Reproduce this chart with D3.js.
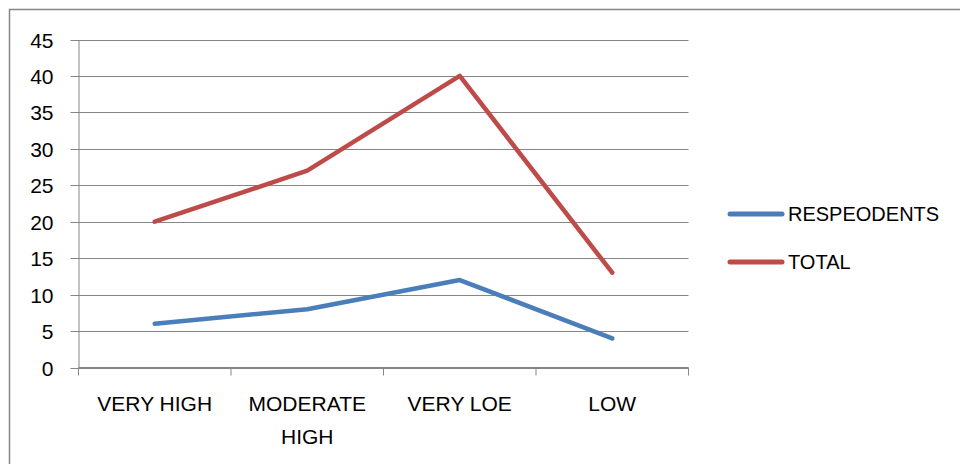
<!DOCTYPE html>
<html><head><meta charset="utf-8">
<script src="https://cdn.jsdelivr.net/npm/d3@7"></script>
<style>body{margin:0;background:#fff}svg{display:block}</style>
</head><body>
<svg id="c" width="960" height="464"></svg>
<script>
const categories = [["VERY HIGH"], ["MODERATE", "HIGH"], ["VERY LOE"], ["LOW"]];
const respondents = [6, 8, 12, 4];
const total = [20, 27, 40, 13];
const seriesNames = ["RESPEODENTS", "TOTAL"];
const yTicks = [0, 5, 10, 15, 20, 25, 30, 35, 40, 45];

(function(){
const svg = d3.select("#c");
const font = "'Liberation Sans', Arial, sans-serif";
const grid = "#868686";

svg.append("rect").attr("x", 9.5).attr("y", 9.5).attr("width", 1000).attr("height", 1000)
  .attr("fill", "none").attr("stroke", grid).attr("stroke-width", 1.5);

const pLeft = 78.5, pRight = 688.5, pTop = 39.5, pBottom = 367.5;
const x = d3.scaleBand().domain(d3.range(categories.length)).range([pLeft, pRight]);
const y = d3.scaleLinear().domain([0, 45]).range([pBottom, pTop]);

svg.append("g").selectAll("line").data(yTicks).join("line")
  .attr("x1", pLeft - 8).attr("x2", pRight)
  .attr("y1", d => Math.round(y(d)) + 0.5).attr("y2", d => Math.round(y(d)) + 0.5)
  .attr("stroke", grid).attr("stroke-width", 1);

const ya = svg.append("g").attr("transform", `translate(${pLeft},0)`)
  .call(d3.axisLeft(y).tickValues(yTicks).tickSize(0).tickPadding(25));
ya.select(".domain").attr("stroke", grid);
ya.selectAll("text").attr("font-family", font).attr("font-size", 21).attr("fill", "#000")
  .attr("dy", "0.36em");

const xa = svg.append("g").attr("transform", `translate(0,${pBottom})`);
xa.append("line").attr("x1", pLeft).attr("x2", pRight).attr("stroke", grid);
const xt = [...d3.range(categories.length).map(i => x(i)), pRight];
xa.selectAll("line.t").data(xt).join("line").attr("class", "t")
  .attr("x1", d => d).attr("x2", d => d).attr("y1", 0).attr("y2", 8).attr("stroke", grid);
xa.selectAll("text").data(categories).join("text")
  .attr("text-anchor", "middle").attr("font-family", font).attr("font-size", 21).attr("fill", "#000")
  .each(function(lines, i) {
    d3.select(this).selectAll("tspan").data(lines).join("tspan")
      .attr("x", x(i) + x.bandwidth() / 2).attr("y", (d, j) => 43.5 + j * 32.5).text(d => d);
  });

const colors = ["#4A7EBB", "#BE4B48"];
const line = d3.line().x((d, i) => x(i) + x.bandwidth() / 2).y(d => y(d));
[respondents, total].forEach((s, k) => {
  svg.append("path").datum(s).attr("d", line).attr("fill", "none")
    .attr("stroke", colors[k]).attr("stroke-width", 4.5).attr("stroke-linecap", "round").attr("stroke-linejoin", "round");
});

const lg = svg.append("g");
seriesNames.forEach((n, k) => {
  const ly = 214 + k * 48;
  lg.append("line").attr("x1", 730).attr("x2", 782).attr("y1", ly).attr("y2", ly)
    .attr("stroke", colors[k]).attr("stroke-width", 5).attr("stroke-linecap", "round");
  lg.append("text").attr("x", 788).attr("y", ly).attr("dy", "0.36em")
    .attr("font-family", font).attr("font-size", 20).attr("fill", "#000").text(n);
});
})();
</script>
</body></html>
